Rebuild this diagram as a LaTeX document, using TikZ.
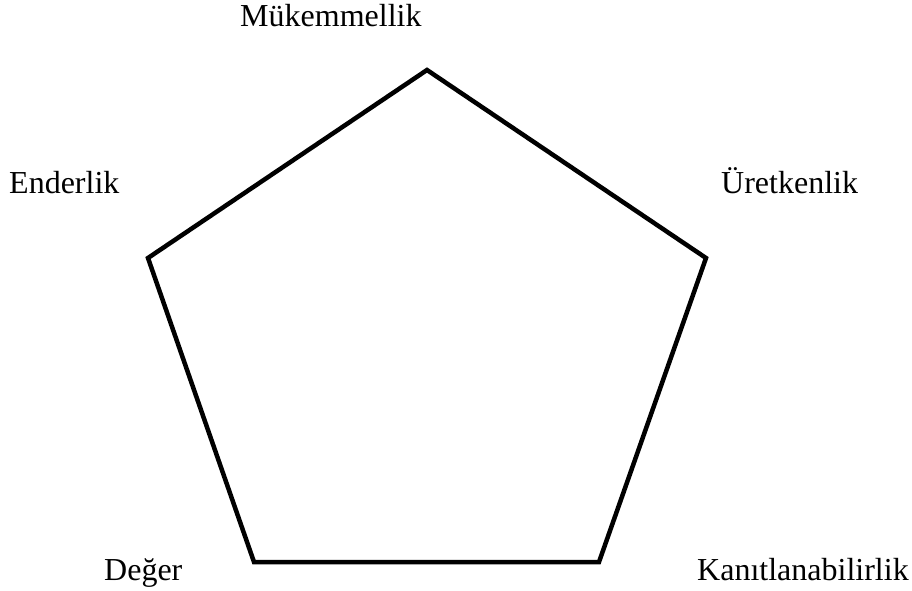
\documentclass[tikz,border=0pt]{standalone}
\usepackage{fontspec}
\setmainfont{Liberation Serif}
\usetikzlibrary{positioning}

\tikzset{
  lbl/.style={anchor=base west, inner sep=0pt, font=\fontsize{32}{38}\selectfont},
  edge/.style={line width=4.5pt, line join=miter}
}

\begin{document}
\begin{tikzpicture}[x=1pt, y=-1pt]
        \useasboundingbox (0,0) rectangle (912,591);

        % Corners
        \coordinate (top) at (427,70);
        \coordinate (right) at (706,258);
        \coordinate (botright) at (599,562);
        \coordinate (botleft) at (254,562);
        \coordinate (left) at (148,258);

        \draw[edge] (top) -- (right) -- (botright) -- (botleft) -- (left) -- cycle;

        % Labels
        \node[lbl] (mukemmellik) at (240,27) {Mükemmellik};
        \node[lbl] (enderlik) at (9,193) {Enderlik};
        \node[lbl] (uretkenlik) at (721,193) {Üretkenlik};
        \node[lbl] (deger) at (104,580) {Değer};
        \node[lbl] (kanitlanabilirlik) at (697,580) {Kanıtlanabilirlik};
      \end{tikzpicture}
\end{document}
